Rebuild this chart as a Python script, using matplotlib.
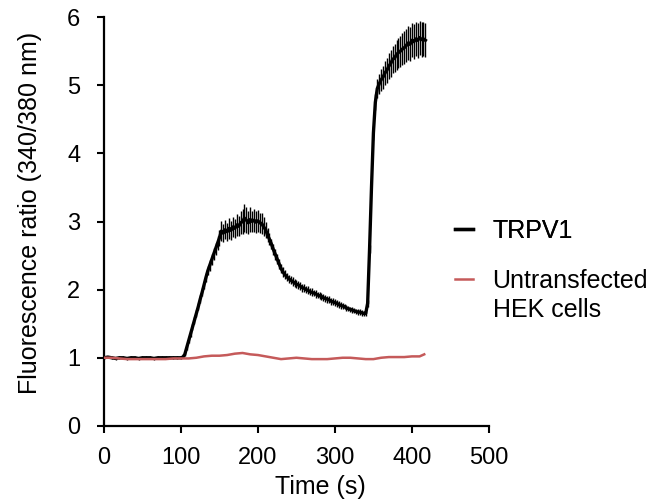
import matplotlib
matplotlib.use("Agg")
import matplotlib.pyplot as plt
from matplotlib.lines import Line2D

plt.rcParams['font.family'] = ['Liberation Sans', 'DejaVu Sans']

# ---- TRPV1 (mean ratio and error) ----
base_t = [0, 5, 10, 15, 20, 25, 30, 35, 40, 45,
          50, 55, 60, 65, 70, 75, 80, 85, 90, 95]
base_y = [1.00, 1.01, 1.00, 0.99, 1.00, 1.00, 0.99, 1.00, 1.00, 0.99,
          1.00, 1.00, 1.00, 0.99, 1.00, 1.00, 1.00, 1.00, 1.00, 1.00]
base_err = [0.02] * 20

resp_t = [100 + 2.5 * i for i in range(128)]
resp_y = [1.00, 1.01, 1.05, 1.15, 1.25, 1.35, 1.45, 1.55,
          1.65, 1.75, 1.86, 1.96, 2.07, 2.18, 2.28, 2.36,
          2.44, 2.52, 2.60, 2.68, 2.76, 2.86, 2.83, 2.88,
          2.85, 2.90, 2.87, 2.92, 2.90, 2.95, 2.93, 2.98,
          3.00, 3.05, 3.02, 2.98, 3.03, 3.00, 3.02, 2.99,
          3.01, 2.98, 2.97, 2.92, 2.88, 2.80, 2.74, 2.67,
          2.59, 2.52, 2.45, 2.38, 2.31, 2.26, 2.22, 2.19,
          2.16, 2.14, 2.12, 2.10, 2.08, 2.07, 2.05, 2.03,
          2.02, 2.00, 1.99, 1.97, 1.96, 1.95, 1.94, 1.92,
          1.91, 1.90, 1.88, 1.87, 1.86, 1.85, 1.83, 1.82,
          1.81, 1.80, 1.78, 1.77, 1.76, 1.75, 1.73, 1.72,
          1.71, 1.70, 1.69, 1.68, 1.67, 1.67, 1.66, 1.65,
          1.65, 1.80, 2.60, 3.50, 4.30, 4.75, 4.95, 5.02,
          5.08, 5.12, 5.18, 5.22, 5.28, 5.32, 5.38, 5.40,
          5.45, 5.48, 5.50, 5.53, 5.55, 5.58, 5.62, 5.60,
          5.66, 5.64, 5.68, 5.66, 5.70, 5.67, 5.68, 5.66]
resp_err = [0.02, 0.02, 0.03, 0.03, 0.04, 0.04, 0.04, 0.05,
            0.05, 0.05, 0.06, 0.06, 0.06, 0.07, 0.07, 0.08,
            0.08, 0.09, 0.09, 0.10, 0.12, 0.15, 0.13, 0.14,
            0.13, 0.15, 0.14, 0.15, 0.14, 0.16, 0.15, 0.17,
            0.18, 0.20, 0.19, 0.17, 0.18, 0.16, 0.17, 0.16,
            0.16, 0.15, 0.15, 0.14, 0.12, 0.10, 0.09, 0.08,
            0.08, 0.08, 0.07, 0.07, 0.07, 0.07, 0.07, 0.06,
            0.06, 0.06, 0.06, 0.06, 0.06, 0.06, 0.06, 0.06,
            0.06, 0.05, 0.06, 0.05, 0.06, 0.05, 0.06, 0.05,
            0.05, 0.05, 0.05, 0.05, 0.05, 0.05, 0.05, 0.05,
            0.05, 0.05, 0.05, 0.05, 0.05, 0.04, 0.05, 0.04,
            0.04, 0.04, 0.04, 0.04, 0.04, 0.04, 0.04, 0.04,
            0.04, 0.05, 0.06, 0.08, 0.10, 0.12, 0.14, 0.15,
            0.16, 0.17, 0.18, 0.18, 0.19, 0.20, 0.20, 0.21,
            0.22, 0.22, 0.23, 0.23, 0.24, 0.24, 0.25, 0.25,
            0.25, 0.26, 0.25, 0.26, 0.25, 0.26, 0.25, 0.25]

trpv1_t = base_t + resp_t
trpv1_y = base_y + resp_y
trpv1_err = base_err + resp_err

# ---- Untransfected HEK cells ----
hek_t = [0, 10, 20, 30, 40, 50, 60, 70, 80, 90,
         100, 110, 120, 130, 140, 150, 160, 170, 180, 190,
         200, 210, 220, 230, 240, 250, 260, 270, 280, 290,
         300, 310, 320, 330, 340, 350, 360, 370, 380, 390,
         400, 410, 416]
hek_y = [1.00, 1.00, 0.99, 0.98, 0.98, 0.98, 0.98, 0.98, 0.98, 0.99,
         0.99, 0.99, 1.00, 1.02, 1.03, 1.03, 1.04, 1.06, 1.07, 1.05,
         1.04, 1.02, 1.00, 0.98, 0.99, 1.00, 0.99, 0.98, 0.98, 0.98,
         0.99, 1.00, 1.00, 0.99, 0.98, 0.98, 1.00, 1.01, 1.01, 1.01,
         1.02, 1.02, 1.05]

x_ticks = [0, 100, 200, 300, 400, 500]
y_ticks = [0, 1, 2, 3, 4, 5, 6]
labels = ['TRPV1', 'Untransfected', 'HEK cells']
RED = '#c55a5a'

fig = plt.figure(figsize=(6.58, 5.04), dpi=100)
ax = fig.add_axes([0.158, 0.155, 0.585, 0.811])

ax.errorbar(trpv1_t, trpv1_y, yerr=trpv1_err, color='black', lw=2.4,
            elinewidth=1.0, capsize=0, zorder=2)
ax.plot(hek_t, hek_y, color=RED, lw=1.8, zorder=3)

ax.set_xlim(0, 500)
ax.set_ylim(0, 6)
ax.set_xticks(x_ticks)
ax.set_yticks(y_ticks)
for s in ['top', 'right']:
    ax.spines[s].set_visible(False)
for s in ['left', 'bottom']:
    ax.spines[s].set_linewidth(1.6)
ax.tick_params(direction='out', length=5, width=1.5, labelsize=17)
ax.tick_params(axis='y', pad=12)
ax.tick_params(axis='x', pad=10)
ax.set_xlabel('Time (s)', fontsize=18)
ax.set_ylabel('Fluorescence ratio (340/380 nm)', fontsize=18)
ax.xaxis.set_label_coords(0.561, -0.12)
ax.yaxis.set_label_coords(-0.162, 0.52)

leg1 = fig.legend([Line2D([], [], color='black', lw=2.4)], [labels[0]],
                  loc='upper left', bbox_to_anchor=(0.6915, 0.566),
                  frameon=False, fontsize=18, handlelength=0.7,
                  handletextpad=0.8, borderpad=0, borderaxespad=0)
leg2 = fig.legend([Line2D([], [], color=RED, lw=1.8),
                   Line2D([], [], color='none', lw=0)], labels[1:],
                  loc='upper left', bbox_to_anchor=(0.6915, 0.466),
                  frameon=False, fontsize=18, handlelength=0.7,
                  handletextpad=0.8, borderpad=0, borderaxespad=0,
                  labelspacing=0.2)
fig.add_artist(leg1)

fig.savefig('out.png', dpi=100)
